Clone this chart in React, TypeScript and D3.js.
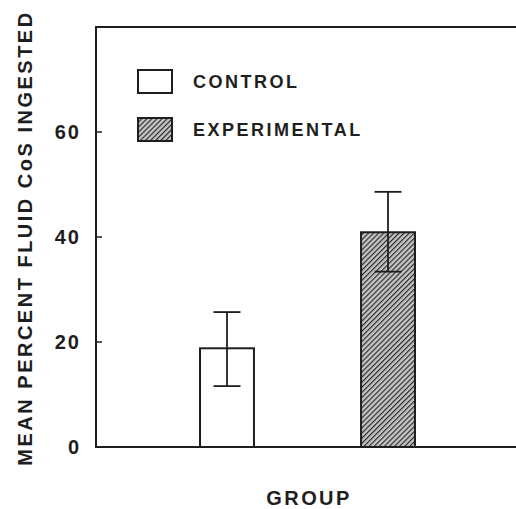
import React from "react";
import * as d3 from "d3";

const categories = ["CONTROL", "EXPERIMENTAL"];
const means = [18.8, 40.9];
const errLow = [11.6, 33.4];
const errHigh = [25.7, 48.6];
const yTicks = [0, 20, 40, 60];
const yLabel = "MEAN PERCENT FLUID CoS INGESTED";
const xLabel = "GROUP";

const W = 516;
const H = 509;
const left = 96;
const top = 27;
const bottom = 447;
const rightEdge = 519;
const ink = "#1e1e1e";
const font = "'Liberation Sans', Arial, Helvetica, sans-serif";

export default function App() {
  const y = d3.scaleLinear().domain([0, 80]).range([bottom, top]);
  const x = d3
    .scaleBand<string>()
    .domain(categories)
    .range([left, rightEdge])
    .paddingInner(0.665)
    .paddingOuter(0.646);
  const bw = x.bandwidth();
  const capW = 27;

  return (
    <svg
      width={W}
      height={H}
      style={{ position: "absolute", left: 0, top: 0, background: "#fff" }}
    >
      <defs>
        <pattern
          id="hatch"
          patternUnits="userSpaceOnUse"
          width={3.6}
          height={3.6}
          patternTransform="rotate(45)"
        >
          <rect width={3.6} height={3.6} fill="#c4c4c4" />
          <line x1={0} y1={0} x2={0} y2={3.6} stroke="#222" strokeWidth={2.2} />
        </pattern>
      </defs>

      {/* frame */}
      <path
        d={`M${W},${top} L${left},${top} L${left},${bottom} L${W},${bottom}`}
        fill="none"
        stroke={ink}
        strokeWidth={2}
      />

      {/* y ticks */}
      {yTicks.map((t) => (
        <g key={t}>
          {t !== 0 && (
            <line
              x1={left}
              x2={left + 6}
              y1={y(t)}
              y2={y(t)}
              stroke={ink}
              strokeWidth={1.5}
            />
          )}
          <text
            x={81}
            y={y(t)}
            dy="0.36em"
            textAnchor="end"
            fontFamily={font}
            fontWeight="bold"
            fontSize={20}
            letterSpacing={2}
            fill={ink}
          >
            {t}
          </text>
        </g>
      ))}

      {/* bars */}
      {categories.map((c, i) => (
        <rect
          key={c}
          x={x(c)!}
          y={y(means[i])}
          width={bw}
          height={y(0) - y(means[i])}
          fill={i === 0 ? "#fff" : "url(#hatch)"}
          stroke={ink}
          strokeWidth={2}
        />
      ))}

      {/* error bars */}
      {categories.map((c, i) => {
        const cx = x(c)! + bw / 2;
        return (
          <g key={c} stroke={ink} strokeWidth={1.8}>
            <line x1={cx} x2={cx} y1={y(errLow[i])} y2={y(errHigh[i])} />
            <line x1={cx - capW / 2} x2={cx + capW / 2} y1={y(errLow[i])} y2={y(errLow[i])} />
            <line x1={cx - capW / 2} x2={cx + capW / 2} y1={y(errHigh[i])} y2={y(errHigh[i])} />
          </g>
        );
      })}

      {/* legend */}
      {categories.map((c, i) => (
        <g key={c}>
          <rect
            x={138}
            y={70 + i * 48}
            width={34}
            height={23}
            fill={i === 0 ? "#fff" : "url(#hatch)"}
            stroke={ink}
            strokeWidth={2}
          />
          <text
            x={193}
            y={88 + i * 48}
            fontFamily={font}
            fontWeight="bold"
            fontSize={18}
            letterSpacing={2.5}
            fill={ink}
          >
            {c}
          </text>
        </g>
      ))}

      {/* axis labels */}
      <text
        transform={`translate(32, ${238}) rotate(-90)`}
        textAnchor="middle"
        fontFamily={font}
        fontWeight="bold"
        fontSize={20}
        letterSpacing={2.5}
        fill={ink}
      >
        {yLabel}
      </text>
      <text
        x={309}
        y={505}
        textAnchor="middle"
        fontFamily={font}
        fontWeight="bold"
        fontSize={20}
        letterSpacing={2.4}
        fill={ink}
      >
        {xLabel}
      </text>
    </svg>
  );
}
